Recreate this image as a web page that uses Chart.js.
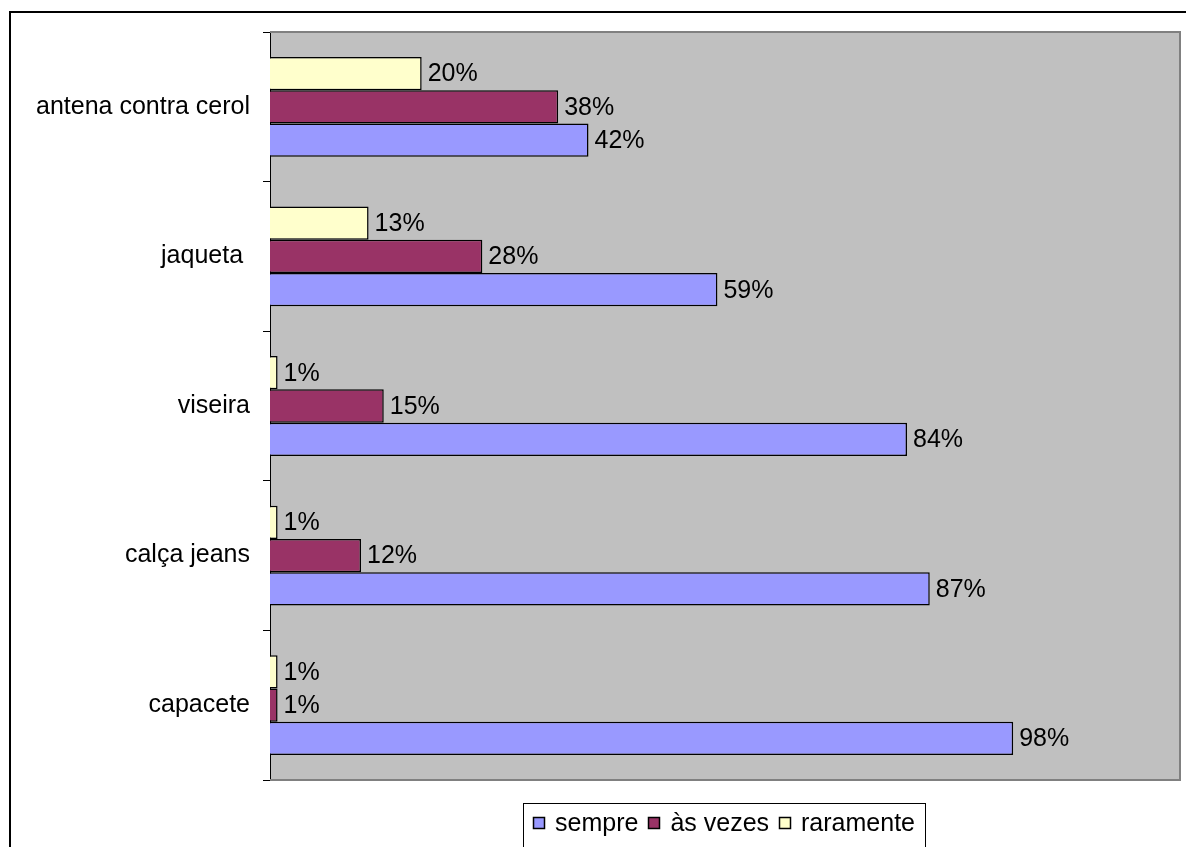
<!DOCTYPE html>
<html>
<head>
<meta charset="utf-8">
<script src="https://cdn.jsdelivr.net/npm/chart.js@4/dist/chart.umd.min.js"></script>
<style>
  body { margin: 0; background: #fff; }
</style>
</head>
<body>
<canvas id="chart" width="1186" height="847"></canvas>
<script>
// categories top to bottom (the original label has a trailing space)
const categories = ['antena contra cerol', 'jaqueta ', 'viseira', 'calça jeans', 'capacete'];
// values in %
const sempre = [42, 59, 84, 87, 98];
const asVezes = [38, 28, 15, 12, 1];
const raramente = [20, 13, 1, 1, 1];
const seriesNames = ['sempre', 'às vezes', 'raramente'];
const seriesColors = ['#9999FF', '#993366', '#FFFFCC'];

const FONT = 'Liberation Sans, Arial, sans-serif';
const fontSize = 25;

// bars: raramente on top of each group, sempre at the bottom
const datasets = [
    { label: seriesNames[2], data: raramente, backgroundColor: seriesColors[2] },
    { label: seriesNames[1], data: asVezes, backgroundColor: seriesColors[1] },
    { label: seriesNames[0], data: sempre, backgroundColor: seriesColors[0] }
];

const framePlugin = {
    id: 'frame',
    beforeDraw(chart) {
        const ctx = chart.ctx
        const a = chart.chartArea
        ctx.save()
        ctx.fillStyle = '#fff'
        ctx.fillRect(0, 0, chart.width, chart.height)
        // outer border (cut by the canvas on right and bottom)
        ctx.strokeStyle = '#000'
        ctx.lineWidth = 2
        ctx.strokeRect(10, 12, chart.width + 20, chart.height + 20)
        // plot area
        ctx.fillStyle = '#C0C0C0'
        ctx.fillRect(a.left, a.top, a.right - a.left, a.bottom - a.top)
        ctx.restore()
    },
    afterDatasetsDraw(chart) {
        const ctx = chart.ctx
        const a = chart.chartArea
        ctx.save()
        ctx.strokeStyle = '#808080'
        ctx.lineWidth = 2
        ctx.beginPath()
        ctx.moveTo(a.left, a.top)
        ctx.lineTo(a.right, a.top)
        ctx.lineTo(a.right, a.bottom)
        ctx.lineTo(a.left, a.bottom)
        ctx.stroke()
        // value labels
        ctx.fillStyle = '#000'
        ctx.font = fontSize + 'px ' + FONT
        ctx.textBaseline = 'middle'
        ctx.textAlign = 'left'
        chart.data.datasets.forEach((ds, i) => {
            chart.getDatasetMeta(i).data.forEach((bar, j) => {
                ctx.fillText(ds.data[j] + '%', bar.x + 6, bar.y + 1)
            })
        })
        ctx.restore()
    },
    afterDraw(chart) {
        // legend in a box, sempre / às vezes / raramente
        const ctx = chart.ctx
        ctx.save()
        ctx.font = fontSize + 'px ' + FONT
        const items = chart.data.datasets.slice().reverse()
        const sq = 11, gap = 11, sep = 10
        let total = 0
        items.forEach((ds, i) => {
            total += sq + gap + ctx.measureText(ds.label).width
            if (i < items.length - 1) total += sep
        })
        const cx = 724, cy = 823
        let x = cx - total / 2
        ctx.strokeStyle = '#000'
        ctx.lineWidth = 1
        ctx.strokeRect(Math.round(x - 10) + 0.5, 803.5, Math.round(total + 20), 80)
        ctx.textBaseline = 'middle'
        items.forEach(ds => {
            const sx = Math.round(x) + 0.5
            ctx.fillStyle = ds.backgroundColor
            ctx.fillRect(sx, cy - 5.5, sq, sq)
            ctx.lineWidth = 1.5
            ctx.strokeRect(sx, cy - 5.5, sq, sq)
            x += sq + gap
            ctx.fillStyle = '#000'
            ctx.fillText(ds.label, x, cy + 1)
            x += ctx.measureText(ds.label).width + sep
        })
        ctx.restore()
    }
}

new Chart('chart', {
    type: 'bar',
    data: {
        labels: categories,
        datasets: datasets.map(d => Object.assign({
            borderColor: '#000',
            borderWidth: 1.5,
            categoryPercentage: 0.667,
            barPercentage: 1
        }, d))
    },
    options: {
        indexAxis: 'y',
        responsive: false,
        animation: false,
        layout: { padding: { top: 32, right: 6, bottom: 67, left: 0 } },
        plugins: {
            legend: { display: false },
            tooltip: { enabled: false }
        },
        scales: {
            x: { display: false, min: 0, max: 120 },
            y: {
                afterFit: s => { s.width = 270 },
                grid: { offset: true, drawOnChartArea: false, tickLength: 7, color: '#000' },
                border: { color: '#000', width: 1 },
                ticks: { color: '#000', padding: 13, font: { family: FONT, size: fontSize } }
            }
        }
    },
    plugins: [framePlugin]
});
</script>
</body>
</html>
